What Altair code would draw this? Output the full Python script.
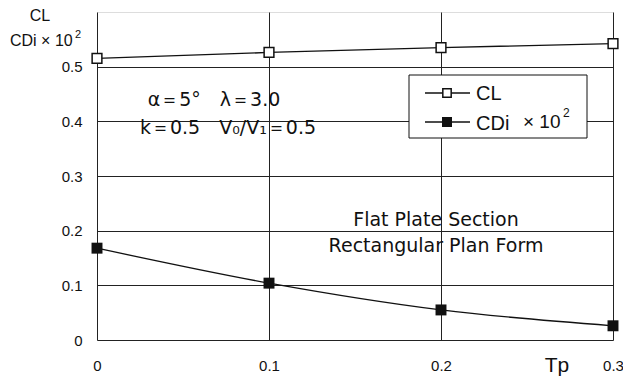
import altair as alt
import pandas as pd

tp = [0.0, 0.1, 0.2, 0.3]
cl = [0.515, 0.526, 0.535, 0.542]
cdi = [0.168, 0.104, 0.055, 0.026]
x_ticks = [0.0, 0.1, 0.2, 0.3]
y_ticks = [0.0, 0.1, 0.2, 0.3, 0.4, 0.5]

df = pd.DataFrame({"Tp": tp, "CL": cl, "CDi": cdi})

W, H = 516, 328
AX_FONT = "Liberation Sans"
TXT_FONT = "DejaVu Sans"
SP = "\u2002"

xs = alt.Scale(domain=[0, 0.3], nice=False)
ys = alt.Scale(domain=[0, 0.6], nice=False)

base = alt.Chart(df)

axes = base.mark_point(opacity=0).encode(
    x=alt.X("Tp:Q", scale=xs,
            axis=alt.Axis(values=x_ticks, format=".1~f", title=None, grid=True,
                          gridColor="#222", gridWidth=1, ticks=False, domain=False,
                          labelPadding=18, labelFont=AX_FONT, labelFontSize=15,
                          labelColor="#111", labelFlush=False,
                          labelExpr="datum.value == 0 ? '0' : datum.label")),
    y=alt.Y("CL:Q", scale=ys,
            axis=alt.Axis(values=y_ticks, format=".1~f", title=None, grid=True,
                          gridColor="#222", gridWidth=1, ticks=False, domain=False,
                          labelPadding=15, labelFont=AX_FONT, labelFontSize=15,
                          labelColor="#111",
                          labelExpr="datum.value == 0 ? '0' : datum.label")),
)

cl_line = base.mark_line(color="#111", strokeWidth=1.3).encode(
    x=alt.X("Tp:Q", scale=xs), y=alt.Y("CL:Q", scale=ys))
cl_pts = base.mark_point(shape="square", size=95, filled=True, fill="white",
                         stroke="#111", strokeWidth=1.5, opacity=1).encode(
    x=alt.X("Tp:Q", scale=xs), y=alt.Y("CL:Q", scale=ys))

cdi_line = base.mark_line(color="#111", strokeWidth=1.3, interpolate="monotone").encode(
    x=alt.X("Tp:Q", scale=xs), y=alt.Y("CDi:Q", scale=ys))
cdi_pts = base.mark_point(shape="square", size=120, filled=True, color="#111",
                          opacity=1).encode(
    x=alt.X("Tp:Q", scale=xs), y=alt.Y("CDi:Q", scale=ys))

one = pd.DataFrame({"a": [0]})
ann = alt.Chart(one)

def txt(s, x, y, size=15, font=TXT_FONT, align="center", **kw):
    return ann.mark_text(text=s, font=font, fontSize=size, align=align,
                         baseline="middle", color="#111", **kw).encode(
        x=alt.value(x), y=alt.value(y))

# legend box
legend_box = ann.mark_rect(fill="white", stroke="#111", strokeWidth=1).encode(
    x=alt.value(312), x2=alt.value(490), y=alt.value(63), y2=alt.value(126))
leg_l1 = ann.mark_rule(color="#111", strokeWidth=1.3).encode(
    x=alt.value(328), x2=alt.value(373), y=alt.value(81))
leg_l2 = ann.mark_rule(color="#111", strokeWidth=1.3).encode(
    x=alt.value(328), x2=alt.value(373), y=alt.value(110))
leg_p1 = ann.mark_point(shape="square", size=70, filled=True, fill="white",
                        stroke="#111", strokeWidth=1.5, opacity=1).encode(
    x=alt.value(350), y=alt.value(81))
leg_p2 = ann.mark_point(shape="square", size=100, filled=True, color="#111",
                        opacity=1).encode(x=alt.value(350), y=alt.value(110))

layers = [
    axes, cl_line, cdi_line, cl_pts, cdi_pts,
    legend_box, leg_l1, leg_l2, leg_p1, leg_p2,
    txt("CL", 379, 82, size=20, font=AX_FONT, align="left"),
    txt("CDi", 379, 112, size=20, font=AX_FONT, align="left"),
    txt("× 10", 426, 110, size=19, font=AX_FONT, align="left"),
    txt("2", 466, 101, size=12, font=AX_FONT, align="left"),
    txt(f"α＝5°{SP}{SP}λ＝3.0", 117, 88, size=19),
    txt(f"k＝0.5{SP}{SP}V₀/V₁＝0.5", 131, 116, size=19),
    txt("Flat Plate Section", 339, 208, size=19),
    txt("Rectangular Plan Form", 339, 234, size=19),
    txt("CL", -57, 4, size=16, font=AX_FONT),
    txt("CDi × 10", -87, 29, size=16, font=AX_FONT, align="left"),
    txt("2", -22, 23, size=11, font=AX_FONT, align="left"),
    txt("Tp", 460, 354, size=21, font=AX_FONT),
]

chart = alt.layer(*layers).properties(
    width=W, height=H,
    autosize=alt.AutoSizeParams(type="none"),
    padding={"left": 89, "top": 4, "right": 10, "bottom": 40},
).configure_view(stroke="#111", strokeWidth=2).configure(background="white")

chart.save("out.html", embed_options={"renderer": "svg", "actions": False})
